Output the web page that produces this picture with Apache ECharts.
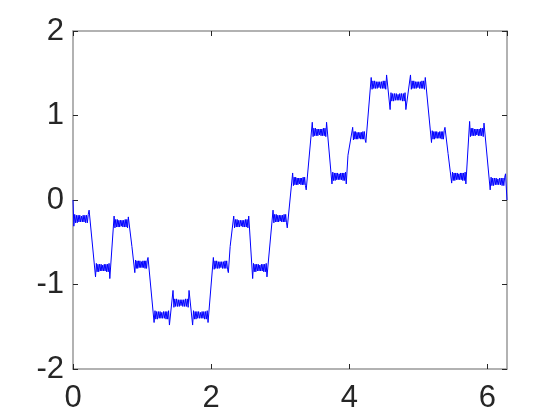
<!DOCTYPE html>
<html>
<head>
<meta charset="utf-8">
<script src="https://cdn.jsdelivr.net/npm/echarts@6/dist/echarts.min.js"></script>
<style>
  html, body { margin: 0; padding: 0; background: #fff; }
  #chart { width: 560px; height: 420px; }
</style>
</head>
<body>
<div id="chart"></div>
<script>
// x positions, one line per plateau (kinks on their own line)
const curveX = [
  0,
  0.012, 0.025, 0.037, 0.049, 0.061, 0.074, 0.086, 0.098, 0.110, 0.123, 0.135, 0.147, 0.159, 0.172, 0.184, 0.196, 0.208, 0.221, 0.233,
  0.326, 0.338, 0.349, 0.361, 0.372, 0.384, 0.395, 0.407, 0.418, 0.430, 0.441, 0.453, 0.464, 0.476, 0.487, 0.499, 0.510, 0.522, 0.533,
  0.595, 0.607, 0.618, 0.630, 0.641, 0.653, 0.664, 0.676, 0.687, 0.699, 0.710, 0.722, 0.733, 0.745, 0.756, 0.768, 0.779, 0.790, 0.801,
  0.853,
  0.895, 0.906, 0.916, 0.927, 0.937, 0.948, 0.958, 0.969, 0.980, 0.991, 1.001, 1.012, 1.022, 1.033, 1.043, 1.054, 1.065, 1.076, 1.086,
  1.174, 1.187, 1.199, 1.211, 1.223, 1.236, 1.248, 1.261, 1.273, 1.285, 1.297, 1.310, 1.322, 1.335, 1.347, 1.359, 1.371, 1.384, 1.396,
  1.448, 1.461, 1.474, 1.487, 1.500, 1.513, 1.525, 1.538, 1.551, 1.564, 1.577, 1.590, 1.603, 1.616, 1.628, 1.641, 1.654, 1.667, 1.680,
  1.732, 1.745, 1.757, 1.769, 1.781, 1.794, 1.806, 1.819, 1.831, 1.844, 1.856, 1.869, 1.881, 1.894, 1.906, 1.918, 1.930, 1.943, 1.955,
  2.032, 2.044, 2.056, 2.068, 2.080, 2.092, 2.104, 2.116, 2.128, 2.141, 2.153, 2.165, 2.177, 2.189, 2.201, 2.213, 2.225, 2.237, 2.249,
  2.275,
  2.327, 2.339, 2.351, 2.363, 2.375, 2.387, 2.399, 2.411, 2.423, 2.436, 2.448, 2.460, 2.472, 2.484, 2.496, 2.508, 2.520, 2.532, 2.544,
  2.601, 2.613, 2.624, 2.636, 2.647, 2.659, 2.670, 2.682, 2.693, 2.705, 2.716, 2.728, 2.739, 2.751, 2.762, 2.774, 2.785, 2.797, 2.808,
  2.896, 2.908, 2.919, 2.931, 2.942, 2.954, 2.965, 2.977, 2.988, 2.999, 3.010, 3.022, 3.033, 3.045, 3.056, 3.068, 3.079, 3.091, 3.102,
  3.180, 3.191, 3.202, 3.213, 3.224, 3.235, 3.245, 3.256, 3.267, 3.278, 3.289, 3.300, 3.311, 3.322, 3.332, 3.343, 3.354, 3.365, 3.376,
  3.464, 3.476, 3.487, 3.499, 3.510, 3.522, 3.533, 3.545, 3.556, 3.568, 3.579, 3.591, 3.602, 3.614, 3.625, 3.637, 3.648, 3.660, 3.671,
  3.749, 3.761, 3.772, 3.784, 3.795, 3.807, 3.818, 3.830, 3.841, 3.853, 3.864, 3.876, 3.887, 3.899, 3.910, 3.922, 3.933, 3.945, 3.956,
  3.981,
  4.049, 4.060, 4.070, 4.081, 4.091, 4.102, 4.112, 4.123, 4.134, 4.145, 4.155, 4.166, 4.176, 4.187, 4.197, 4.208, 4.219, 4.230, 4.240,
  4.317, 4.330, 4.342, 4.355, 4.367, 4.379, 4.391, 4.404, 4.416, 4.429, 4.441, 4.454, 4.466, 4.479, 4.491, 4.503, 4.515, 4.528, 4.540,
  4.591, 4.604, 4.616, 4.629, 4.642, 4.655, 4.667, 4.680, 4.693, 4.706, 4.718, 4.731, 4.743, 4.756, 4.769, 4.782, 4.794, 4.807, 4.819,
  4.886, 4.898, 4.910, 4.922, 4.934, 4.946, 4.957, 4.969, 4.981, 4.993, 5.005, 5.017, 5.029, 5.041, 5.052, 5.064, 5.076, 5.088, 5.100,
  5.190, 5.201, 5.212, 5.223, 5.233, 5.244, 5.255, 5.266, 5.277, 5.288, 5.298, 5.309, 5.320, 5.331, 5.342, 5.353, 5.363, 5.374, 5.385,
  5.430,
  5.482, 5.494, 5.505, 5.517, 5.528, 5.540, 5.551, 5.563, 5.574, 5.586, 5.597, 5.609, 5.620, 5.631, 5.642, 5.654, 5.665, 5.677, 5.688,
  5.742, 5.754, 5.765, 5.777, 5.788, 5.800, 5.811, 5.823, 5.834, 5.846, 5.857, 5.869, 5.880, 5.892, 5.903, 5.915, 5.927, 5.939, 5.950,
  6.040, 6.053, 6.065, 6.077, 6.089, 6.102, 6.114, 6.126, 6.138, 6.151, 6.163, 6.176, 6.188, 6.200, 6.212, 6.225, 6.237, 6.250, 6.262,
  6.283
]

// values, same layout as curveX
const curveY = [
  0,
  -0.31, -0.17, -0.27, -0.18, -0.27, -0.18, -0.26, -0.18, -0.26, -0.19, -0.26, -0.18, -0.26, -0.18, -0.27, -0.18, -0.27, -0.17, -0.12,
  -0.91, -0.75, -0.85, -0.76, -0.85, -0.76, -0.84, -0.76, -0.84, -0.77, -0.84, -0.76, -0.84, -0.76, -0.85, -0.76, -0.85, -0.75, -0.93,
  -0.19, -0.33, -0.23, -0.32, -0.23, -0.32, -0.24, -0.32, -0.24, -0.31, -0.24, -0.32, -0.24, -0.32, -0.23, -0.32, -0.23, -0.33, -0.20,
  -0.55,
  -0.86, -0.71, -0.81, -0.72, -0.81, -0.72, -0.80, -0.72, -0.80, -0.73, -0.80, -0.72, -0.80, -0.72, -0.81, -0.72, -0.81, -0.71, -0.68,
  -1.45, -1.31, -1.41, -1.32, -1.41, -1.32, -1.40, -1.32, -1.40, -1.33, -1.40, -1.32, -1.40, -1.32, -1.41, -1.32, -1.41, -1.31, -1.48,
  -1.07, -1.27, -1.17, -1.26, -1.17, -1.26, -1.18, -1.26, -1.18, -1.25, -1.18, -1.26, -1.18, -1.26, -1.17, -1.26, -1.17, -1.27, -1.07,
  -1.48, -1.31, -1.41, -1.32, -1.41, -1.32, -1.40, -1.32, -1.40, -1.33, -1.40, -1.32, -1.40, -1.32, -1.41, -1.32, -1.41, -1.31, -1.45,
  -0.68, -0.82, -0.72, -0.81, -0.72, -0.81, -0.73, -0.81, -0.73, -0.80, -0.73, -0.81, -0.73, -0.81, -0.72, -0.81, -0.72, -0.82, -0.86,
  -0.55,
  -0.19, -0.33, -0.23, -0.32, -0.23, -0.32, -0.24, -0.32, -0.24, -0.31, -0.24, -0.32, -0.24, -0.32, -0.23, -0.32, -0.23, -0.33, -0.19,
  -0.93, -0.75, -0.85, -0.76, -0.85, -0.76, -0.84, -0.76, -0.84, -0.77, -0.84, -0.76, -0.84, -0.76, -0.85, -0.76, -0.85, -0.75, -0.91,
  -0.12, -0.27, -0.17, -0.26, -0.17, -0.26, -0.18, -0.26, -0.18, -0.25, -0.18, -0.26, -0.18, -0.26, -0.17, -0.26, -0.17, -0.27, -0.33,
  0.32, 0.17, 0.27, 0.18, 0.27, 0.18, 0.26, 0.18, 0.26, 0.19, 0.26, 0.18, 0.26, 0.18, 0.27, 0.18, 0.27, 0.17, 0.12,
  0.92, 0.75, 0.85, 0.76, 0.85, 0.76, 0.84, 0.76, 0.84, 0.77, 0.84, 0.76, 0.84, 0.76, 0.85, 0.76, 0.85, 0.75, 0.92,
  0.19, 0.33, 0.23, 0.32, 0.23, 0.32, 0.24, 0.32, 0.24, 0.31, 0.24, 0.32, 0.24, 0.32, 0.23, 0.32, 0.23, 0.33, 0.19,
  0.53,
  0.86, 0.71, 0.81, 0.72, 0.81, 0.72, 0.80, 0.72, 0.80, 0.73, 0.80, 0.72, 0.80, 0.72, 0.81, 0.72, 0.81, 0.71, 0.68,
  1.45, 1.31, 1.41, 1.32, 1.41, 1.32, 1.40, 1.32, 1.40, 1.33, 1.40, 1.32, 1.40, 1.32, 1.41, 1.32, 1.41, 1.31, 1.48,
  1.07, 1.27, 1.17, 1.26, 1.17, 1.26, 1.18, 1.26, 1.18, 1.25, 1.18, 1.26, 1.18, 1.26, 1.17, 1.26, 1.17, 1.27, 1.07,
  1.48, 1.31, 1.41, 1.32, 1.41, 1.32, 1.40, 1.32, 1.40, 1.33, 1.40, 1.32, 1.40, 1.32, 1.41, 1.32, 1.41, 1.31, 1.45,
  0.68, 0.82, 0.72, 0.81, 0.72, 0.81, 0.73, 0.81, 0.73, 0.80, 0.73, 0.81, 0.73, 0.81, 0.72, 0.81, 0.72, 0.82, 0.86,
  0.55,
  0.20, 0.33, 0.23, 0.32, 0.23, 0.32, 0.24, 0.32, 0.24, 0.31, 0.24, 0.32, 0.24, 0.32, 0.23, 0.32, 0.23, 0.33, 0.19,
  0.93, 0.75, 0.85, 0.76, 0.85, 0.76, 0.84, 0.76, 0.84, 0.77, 0.84, 0.76, 0.84, 0.76, 0.85, 0.76, 0.85, 0.75, 0.91,
  0.12, 0.27, 0.17, 0.26, 0.17, 0.26, 0.18, 0.26, 0.18, 0.25, 0.18, 0.26, 0.18, 0.26, 0.17, 0.26, 0.17, 0.27, 0.31,
  0
]

const xRange = [0, 6.283185]
const yRange = [-2, 2]

const axisGray = '#999999'
const labelColor = '#262626'

const chart = echarts.init(document.getElementById('chart'), null, { renderer: 'canvas' })

const boxAxis = (extra) => Object.assign({
  axisLine: { show: true, onZero: false, lineStyle: { color: axisGray, width: 1.5 } },
  axisTick: { show: true, inside: true, length: 5, lineStyle: { color: labelColor, width: 1 } },
  splitLine: { show: false }
}, extra)

chart.setOption({
  animation: false,
  grid: { left: 73, right: 53, top: 31, bottom: 51 },
  xAxis: [
    boxAxis({
      type: 'value', position: 'bottom', min: xRange[0], max: xRange[1], interval: 2,
      axisLabel: {
        margin: 14, color: labelColor, fontSize: 31, fontFamily: 'Liberation Sans, Arial, sans-serif',
        showMaxLabel: false
      }
    }),
    boxAxis({
      type: 'value', position: 'top', min: xRange[0], max: xRange[1], interval: 2,
      axisLabel: { show: false }
    })
  ],
  yAxis: [
    boxAxis({
      type: 'value', position: 'left', min: yRange[0], max: yRange[1], interval: 1,
      axisLabel: { margin: 9, color: labelColor, fontSize: 31, fontFamily: 'Liberation Sans, Arial, sans-serif' }
    }),
    boxAxis({
      type: 'value', position: 'right', min: yRange[0], max: yRange[1], interval: 1,
      axisLabel: { show: false }
    })
  ],
  series: [{
    type: 'line',
    showSymbol: false,
    data: curveX.map((x, i) => [x, curveY[i]]),
    lineStyle: { color: '#0000ff', width: 1 },
    z: 3
  }]
})
</script>
</body>
</html>
